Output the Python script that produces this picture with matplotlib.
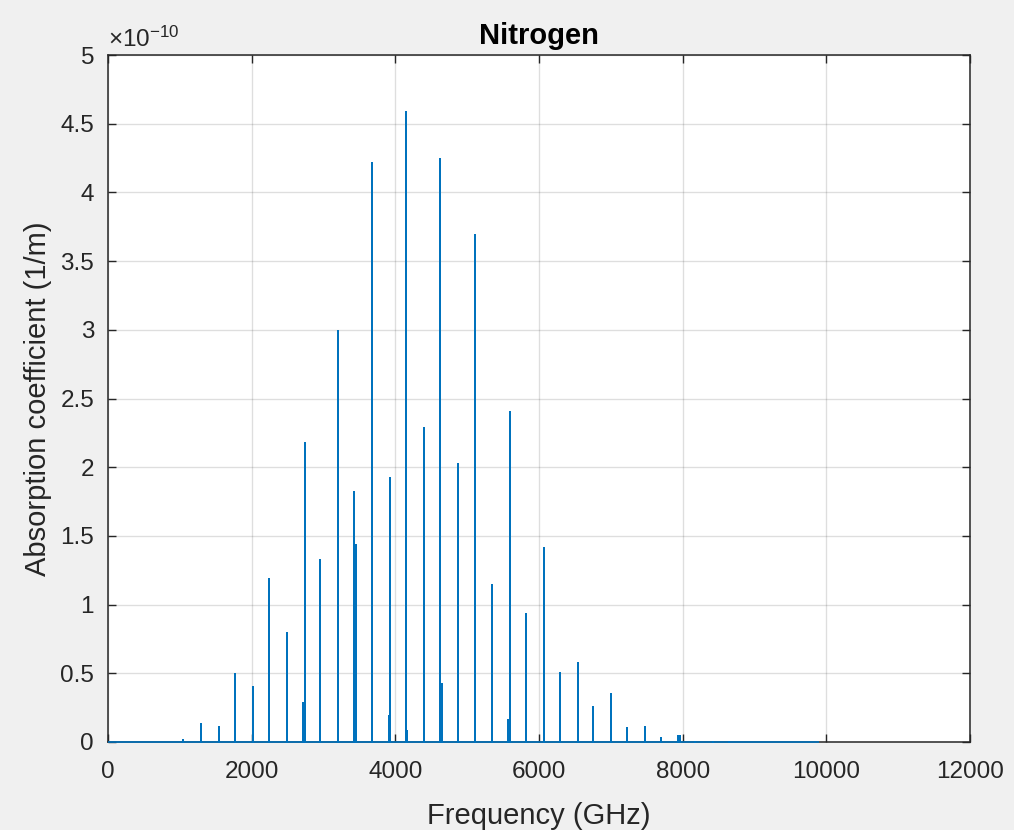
import matplotlib
matplotlib.use("Agg")
import matplotlib.pyplot as plt
from matplotlib.ticker import FuncFormatter
import numpy as np

# MATLAB-like look
plt.rcParams.update(
    {
        "font.family": ["Liberation Sans", "DejaVu Sans"],
        "mathtext.fontset": "custom",
        "mathtext.rm": "Liberation Sans",
        "mathtext.it": "Liberation Sans",
        "axes.linewidth": 1.1,
    }
)

# Line centres (GHz) and peak absorption (x 1e-10 1/m)
freq_ghz = [1048, 1295, 1540, 1545, 1768, 2012, 2239, 2244, 2490, 2710,
            2738, 2958, 3204, 3429, 3452, 3680, 3906, 3930, 4153, 4160,
            4404, 4617, 4648, 4877, 5108, 5116, 5346, 5569, 5597, 5815,
            6065, 6290, 6539, 6757, 7007, 7230, 7478, 7701, 7940, 7963,
            8175, 8418, 8648, 9122]
alpha_e10 = [0.02, 0.14, 0.06, 0.12, 0.50, 0.41, 1.19, 0.56, 0.80, 0.29,
             2.18, 1.33, 3.00, 1.83, 1.44, 4.22, 0.20, 1.93, 4.59, 0.09,
             2.29, 4.25, 0.43, 2.03, 3.70, 3.68, 1.15, 0.17, 2.41, 0.94,
             1.42, 0.51, 0.58, 0.26, 0.36, 0.11, 0.12, 0.035, 0.05, 0.05,
             0.006, 0.005, 0.005, 0.003]
freq_span = [0, 9900]   # range the computed spectrum covers
scale = 1e-10

x_ticks = [0, 2000, 4000, 6000, 8000, 10000, 12000]
y_ticks = [0, 0.5, 1, 1.5, 2, 2.5, 3, 3.5, 4, 4.5, 5]

# spectrum as one polyline: baseline -> spike -> baseline for every line
f = np.asarray(freq_ghz, dtype=float)
a = np.asarray(alpha_e10) * scale
xs = np.concatenate([[freq_span[0]], np.repeat(f, 3), [freq_span[1]]])
ys = np.concatenate([[0.0], np.column_stack([np.zeros_like(a), a, np.zeros_like(a)]).ravel(), [0.0]])

fig = plt.figure(figsize=(10.14, 8.30), dpi=100, facecolor="#f0f0f0")
ax = fig.add_axes([108 / 1014, 1 - 742 / 830, 862 / 1014, 687 / 830])
ax.set_facecolor("white")

ax.plot(xs, ys, color="#0072bd", linewidth=1.2, zorder=3, clip_on=False,
        solid_capstyle="butt", solid_joinstyle="bevel")

ax.set_xlim(0, 12000)
ax.set_ylim(0, 5 * scale)
ax.set_xticks(x_ticks)
ax.set_yticks([v * scale for v in y_ticks])
ax.yaxis.set_major_formatter(FuncFormatter(lambda v, p: f"{v / scale:g}"))
ax.xaxis.set_major_formatter(FuncFormatter(lambda v, p: f"{v:g}"))

ax.grid(True, color="#262626", alpha=0.15, linewidth=1.0)
ax.set_axisbelow(True)
for s in ax.spines.values():
    s.set_color("#262626")
ax.tick_params(direction="in", length=6, width=1.0, colors="#262626",
               labelsize=17.5, top=True, right=True)
ax.tick_params(axis="x", pad=14)
ax.tick_params(axis="y", pad=10)

ax.text(0.0, 1.005, r"$\times10^{-10}$", transform=ax.transAxes,
        fontsize=17.5, color="#262626", ha="left", va="bottom")

ax.set_title("Nitrogen", fontsize=21, fontweight="bold", color="black", pad=8)
ax.set_xlabel("Frequency (GHz)", fontsize=21, color="#262626", labelpad=13)
ax.set_ylabel("Absorption coefficient (1/m)", fontsize=21, color="#262626", labelpad=6)

fig.savefig("out.png", dpi=100, facecolor=fig.get_facecolor())
